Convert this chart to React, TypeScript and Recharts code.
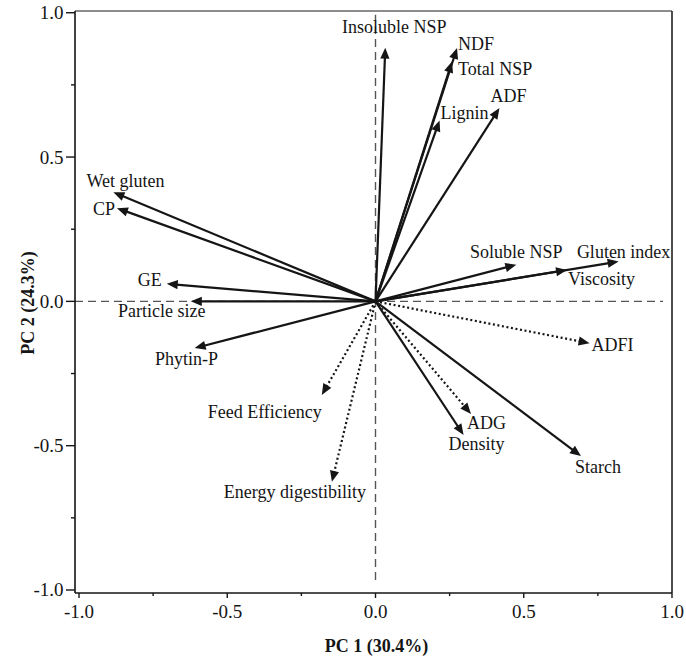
import React from "react";
import {
  ComposedChart,
  XAxis,
  YAxis,
  Scatter,
  ReferenceLine,
  Label,
} from "recharts";

// ---- Data (loadings) ----
const variableNames = [
  "Insoluble NSP",
  "NDF",
  "Total NSP",
  "ADF",
  "Lignin",
  "Soluble NSP",
  "Gluten index",
  "Viscosity",
  "ADFI",
  "ADG",
  "Density",
  "Starch",
  "Wet gluten",
  "CP",
  "GE",
  "Particle size",
  "Phytin-P",
  "Feed Efficiency",
  "Energy digestibility",
];
const pc1Loadings = [
  0.033, 0.275, 0.258, 0.418, 0.216, 0.475, 0.82, 0.646, 0.722, 0.322, 0.297,
  0.693, -0.884, -0.872, -0.704, -0.623, -0.61, -0.181, -0.147,
];
const pc2Loadings = [
  0.879, 0.878, 0.831, 0.67, 0.627, 0.127, 0.138, 0.109, -0.145, -0.39, -0.463,
  -0.536, 0.378, 0.323, 0.061, 0.0, -0.162, -0.324, -0.625,
];
// response (performance) variables drawn dotted
const responseVariables = ["ADFI", "ADG", "Feed Efficiency", "Energy digestibility"];

const xTicks = [-1, -0.75, -0.5, -0.25, 0, 0.25, 0.5, 0.75, 1];
const yTicks = [-1, -0.75, -0.5, -0.25, 0, 0.25, 0.5, 0.75, 1];
const xTitle = "PC 1 (30.4%)";
const yTitle = "PC 2 (24.3%)";

const tips = variableNames.map((name, i) => ({
  name,
  x: pc1Loadings[i],
  y: pc2Loadings[i],
  dotted: responseVariables.includes(name),
}));

// ---- Styling / label placement (pixel offsets from arrow tip) ----
const labelLayout: Record<string, { dx: number; dy: number; anchor: "start" | "middle" | "end" }> = {
  "Insoluble NSP": { dx: 9, dy: -15, anchor: "middle" },
  NDF: { dx: 1, dy: 2, anchor: "start" },
  "Total NSP": { dx: 6, dy: 13, anchor: "start" },
  ADF: { dx: -9, dy: -6, anchor: "start" },
  Lignin: { dx: 1, dy: -1, anchor: "start" },
  "Soluble NSP": { dx: 0, dy: -7, anchor: "middle" },
  "Gluten index": { dx: 5, dy: -4, anchor: "middle" },
  Viscosity: { dx: 1, dy: 15, anchor: "start" },
  ADFI: { dx: 2, dy: 8, anchor: "start" },
  ADG: { dx: -4, dy: 15, anchor: "start" },
  Density: { dx: 13, dy: 15, anchor: "middle" },
  Starch: { dx: 17, dy: 17, anchor: "middle" },
  "Wet gluten": { dx: 12, dy: -5, anchor: "middle" },
  CP: { dx: -2, dy: 7, anchor: "end" },
  GE: { dx: -5, dy: 2, anchor: "end" },
  "Particle size": { dx: -29, dy: 16, anchor: "middle" },
  "Phytin-P": { dx: -8, dy: 17, anchor: "middle" },
  "Feed Efficiency": { dx: 0, dy: 23, anchor: "end" },
  "Energy digestibility": { dx: -37, dy: 16, anchor: "middle" },
};

const FONT = "'Liberation Serif', 'Times New Roman', serif";
const INK = "#151515";
const X_DOMAIN: [number, number] = [-1.0135, 1];
const Y_DOMAIN: [number, number] = [-1.0104, 1.006];

const isMajor = (v: number) => Math.abs(v * 2 - Math.round(v * 2)) < 1e-6;

function XTick(props: any) {
  const { x, y, payload } = props;
  const v = Number(payload.value);
  const major = isMajor(v);
  return (
    <g>
      <line x1={x} y1={y} x2={x} y2={y + (major ? 5 : 3)} stroke={INK} strokeWidth={1.4} />
      {major && (
        <text x={x} y={y + 25} textAnchor="middle" fontFamily={FONT} fontSize={19} fill={INK}>
          {v.toFixed(1)}
        </text>
      )}
    </g>
  );
}

function YTick(props: any) {
  const { x, y, payload } = props;
  const v = Number(payload.value);
  const major = isMajor(v);
  return (
    <g>
      <line x1={x} y1={y} x2={x - (major ? 9 : 4)} y2={y} stroke={INK} strokeWidth={1.4} />
      {major && (
        <text x={x - 11.5} y={y + 6.5} textAnchor="end" fontFamily={FONT} fontSize={19} fill={INK}>
          {v.toFixed(1)}
        </text>
      )}
    </g>
  );
}

function ArrowShape(props: any) {
  const { x1, y1, x2, y2, dotted } = props;
  const ax = Number(x1);
  const ay = Number(y1);
  const bx = Number(x2);
  const by = Number(y2);
  const ddx = bx - ax;
  const ddy = by - ay;
  const len = Math.hypot(ddx, ddy) || 1;
  const ux = ddx / len;
  const uy = ddy / len;
  const head = 11;
  const half = 4.6;
  const baseX = bx - ux * head;
  const baseY = by - uy * head;
  const px = -uy;
  const py = ux;
  const pts = `${bx},${by} ${baseX + px * half},${baseY + py * half} ${baseX - px * half},${baseY - py * half}`;
  return (
    <g>
      <line
        x1={ax}
        y1={ay}
        x2={bx - ux * head * 0.6}
        y2={by - uy * head * 0.6}
        stroke={INK}
        strokeWidth={2.2}
        strokeDasharray={dotted ? "2 2.6" : undefined}
      />
      <polygon points={pts} fill={INK} />
    </g>
  );
}

function LabelShape(props: any) {
  const { cx, cy, payload } = props;
  const lay = labelLayout[payload.name] || { dx: 0, dy: 0, anchor: "middle" };
  return (
    <text
      x={cx + lay.dx}
      y={cy + lay.dy}
      textAnchor={lay.anchor}
      fontFamily={FONT}
      fontSize={18}
      fill={INK}
    >
      {payload.name}
    </text>
  );
}

export default function App() {
  return (
    <div style={{ position: "absolute", left: 0, top: 0, width: 686, height: 657, background: "#fff" }}>
      <ComposedChart
        width={686}
        height={657}
        data={tips}
        margin={{ top: 11, right: 14, bottom: 0, left: 25 }}
      >
        <XAxis
          type="number"
          dataKey="x"
          domain={X_DOMAIN}
          allowDataOverflow
          ticks={xTicks}
          interval={0}
          height={64}
          tickSize={0}
          tickMargin={0}
          tickLine={false}
          tick={<XTick />}
          axisLine={{ stroke: INK, strokeWidth: 1.6 }}
        >
          <Label
            content={(p: any) => {
              const vb = p.viewBox || {};
              return (
                <text
                  x={vb.x + vb.width / 2 + 3}
                  y={vb.y + 59}
                  textAnchor="middle"
                  fontFamily={FONT}
                  fontSize={18}
                  fontWeight="bold"
                  fill={INK}
                >
                  {xTitle}
                </text>
              );
            }}
          />
        </XAxis>
        <YAxis
          type="number"
          dataKey="y"
          domain={Y_DOMAIN}
          allowDataOverflow
          ticks={yTicks}
          interval={0}
          width={50}
          tickSize={0}
          tickMargin={0}
          tickLine={false}
          tick={<YTick />}
          axisLine={{ stroke: INK, strokeWidth: 1.6 }}
        >
          <Label
            content={(p: any) => {
              const vb = p.viewBox || {};
              const cx = vb.x + 9;
              const cy = vb.y + vb.height / 2 + 1;
              return (
                <text
                  x={cx}
                  y={cy}
                  transform={`rotate(-90, ${cx}, ${cy})`}
                  textAnchor="middle"
                  fontFamily={FONT}
                  fontSize={18}
                  fontWeight="bold"
                  fill={INK}
                >
                  {yTitle}
                </text>
              );
            }}
          />
        </YAxis>

        {/* frame: top and right edges */}
        <ReferenceLine y={Y_DOMAIN[1]} stroke="#666" strokeWidth={1.6} />
        <ReferenceLine x={X_DOMAIN[1]} stroke="#222" strokeWidth={1.6} />

        <ReferenceLine
          segment={[
            { x: X_DOMAIN[0], y: 0 },
            { x: 0.97, y: 0 },
          ]}
          stroke="#555"
          strokeWidth={1.4}
          strokeDasharray="8 5"
        />
        <ReferenceLine
          segment={[
            { x: 0, y: -0.965 },
            { x: 0, y: 0.993 },
          ]}
          stroke="#555"
          strokeWidth={1.4}
          strokeDasharray="8 5"
        />

        {tips.map((t) => (
          <ReferenceLine
            key={t.name}
            segment={[
              { x: 0, y: 0 },
              { x: t.x, y: t.y },
            ]}
            shape={(p: any) => <ArrowShape {...p} dotted={t.dotted} />}
          />
        ))}

        <Scatter dataKey="y" data={tips} shape={<LabelShape />} isAnimationActive={false} />
      </ComposedChart>
    </div>
  );
}
